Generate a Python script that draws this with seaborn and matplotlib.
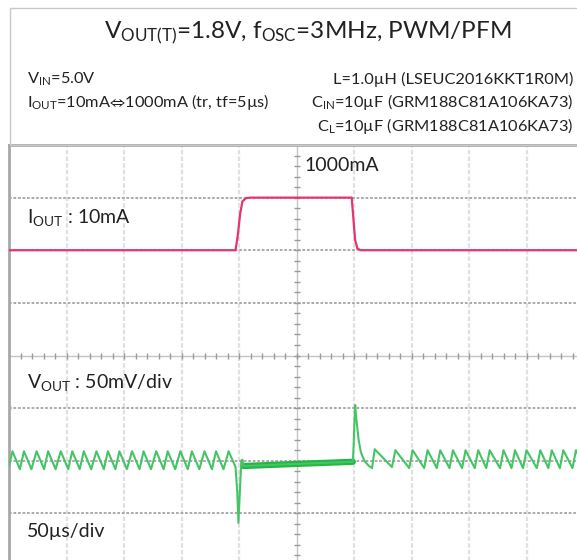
"""
Load transient capture: VOUT(T)=1.8V, fOSC=3MHz, PWM/PFM
Recreated as a static chart (oscilloscope style) with seaborn/matplotlib.
"""

import numpy as np
import matplotlib
matplotlib.use("Agg")
import matplotlib.pyplot as plt
from matplotlib.patches import Rectangle
import seaborn as sns

# 1. DATA (read off the scope shot)
# time base: 50us/div, 10 div across the screen
t_span = 500

# load current step, time in us / current in mA
iout_t = [0, 197, 199, 201, 203, 206, 210, 298, 299.5, 301, 303, 306, 500]
iout_ma = [10, 10, 300, 700, 930, 990, 1000, 1000, 600, 200, 40, 10, 10]

# output voltage ripple (mV around 1.8V), 50mV/div
ripple_peak_t = [3, 13, 24, 34, 45, 55, 65, 76, 86, 96, 107, 117, 128, 138, 149, 159, 170, 180, 191,
                 318, 336, 351, 364, 375, 386, 397, 408, 418, 430, 440, 450, 462, 472, 482, 493]
ripple_peak_mv = [9] * 19 + [11, 10, 10, 10, 10, 10, 10, 10, 10, 10, 10, 10, 10, 10, 10, 10]
ripple_trough_t = [0, 9.5, 19.5, 30.5, 40.5, 51.5, 61.5, 71.5, 82.5, 92.5, 102.5, 113.5, 123.5,
                   134.5, 144.5, 155.5, 165.5, 176.5, 186.5,
                   333, 348, 361, 372, 383, 394, 405, 415, 427, 437, 447, 459, 469, 479, 490, 500]
ripple_trough_mv = [-5] + [-8] * 18 + [-6, -7, -7, -7, -7, -7, -7, -7, -7, -7, -7, -7, -7, -7, -7, -5]

# undershoot when the load steps up, overshoot when it steps down
step_t = [197, 198.5, 199.5, 200.5, 202, 203, 204, 250, 299,
          299.7, 300.5, 301, 302, 304, 306, 309, 313, 315.7]
step_mv = [-6, -30, -59, -35, 0, 1, -5, -3, -1,
           15, 40, 53, 40, 20, 8, 0, -5, -7]

# the noisy PWM band during the 1000mA load
band_t = [204, 250, 299]
band_mv = [-5, -3, -1]

header_title = r"V$_{OUT(T)}$=1.8V, f$_{OSC}$=3MHz, PWM/PFM"
header_left = [r"V$_{IN}$=5.0V", r"I$_{OUT}$=10mA$⇔$1000mA (tr, tf=5µs)"]
header_right = ["L=1.0µH (LSEUC2016KKT1R0M)",
                r"C$_{IN}$=10µF (GRM188C81A106KA73)",
                r"C$_{L}$=10µF (GRM188C81A106KA73)"]

# 2. COMBINE THE VOUT POINTS IN TIME ORDER
vout_t = np.array(ripple_peak_t + ripple_trough_t + step_t, dtype=float)
vout_mv = np.array(ripple_peak_mv + ripple_trough_mv + step_mv, dtype=float)
order = np.argsort(vout_t)
vout_t, vout_mv = vout_t[order], vout_mv[order]

# screen positions in divisions (8 div high): IOUT on lines 6/7, VOUT centred on line 2
iout_div = 6 + (np.array(iout_ma) - 10) / 990
vout_div = 2 + vout_mv / 50
band_div = 2 + np.array(band_mv) / 50

# 3. PLOT
sns.set_style("white")
plt.rcParams["font.family"] = ["Lato", "DejaVu Sans"]
plt.rcParams["mathtext.fontset"] = "custom"
plt.rcParams["mathtext.rm"] = "Lato"
plt.rcParams["mathtext.default"] = "regular"
plt.rcParams["mathtext.fallback"] = "stixsans"

W, H = 577, 560
fig = plt.figure(figsize=(W / 100, H / 100), dpi=100)


def fx(px):
    return px / W


def fy(py):
    return 1 - py / H


# header box
fig.patches.append(Rectangle((fx(10), fy(145)), fx(600) - fx(10), fy(8) - fy(145),
                             transform=fig.transFigure, fill=False, edgecolor="#c8c8c8", lw=1))
fig.text(fx(308), fy(38), header_title, ha="center", va="baseline", fontsize=17.5, color="#222222")
for i, s in enumerate(header_left):
    fig.text(fx(27), fy(84 + 23.5 * i), s, ha="left", va="baseline", fontsize=11.8, color="#222222")
for i, s in enumerate(header_right):
    fig.text(fx(573), fy(84 + 23.5 * i), s, ha="right", va="baseline", fontsize=11.8, color="#222222")

# scope screen: 10 x 8 divisions, a little of it runs off the right and bottom
ax = fig.add_axes([fx(9), fy(566), 575 / W, 421 / H])
ax.set_xlim(0, t_span)
ax.set_ylim(0, 8)
ax.set_xticks([])
ax.set_yticks([])
for side in ["right", "bottom"]:
    ax.spines[side].set_visible(False)
for side in ["left", "top"]:
    ax.spines[side].set_color("#a8a8a8")
    ax.spines[side].set_linewidth(2)

for t in range(50, t_span, 50):
    if t != 250:
        ax.axvline(t, color="#e0e0e0", lw=1.6, ls=(0, (2, 1)), zorder=1)
for y in [1, 2, 3, 5, 6, 7]:
    ax.axhline(y, color="#a4a4a4", lw=1.3, ls=(0, (1.5, 1)), zorder=1)

# centre crosshair with 0.2 div ticks
ax.axvline(250, color="#c4c4c4", lw=1, zorder=1)
ax.axhline(4, color="#c4c4c4", lw=1, zorder=1)
ax.plot(np.full(40, 250), np.arange(0, 8, 0.2), ls="none", marker="_", ms=4, mew=1, color="#9a9a9a", zorder=1)
ax.plot(np.arange(0, t_span, 10), np.full(50, 4), ls="none", marker="|", ms=4, mew=1, color="#9a9a9a", zorder=1)

# traces
sns.lineplot(x=iout_t, y=iout_div, ax=ax, color="#e4356e", lw=1.6, estimator=None, zorder=3)
sns.lineplot(x=band_t, y=band_div, ax=ax, color="#21b844", lw=4.5, estimator=None, zorder=3)
sns.lineplot(x=vout_t, y=vout_div, ax=ax, color="#45c465", lw=1.5, estimator=None, zorder=4)

# labels on the screen
ax.text(15.7, 8 - (223 - 145) / 52.6, r"I$_{OUT}$ : 10mA", fontsize=14, va="baseline", color="#222222")
ax.text(256.5, 8 - (171 - 145) / 52.6, "1000mA", fontsize=14, va="baseline", color="#222222")
ax.text(15.7, 8 - (388 - 145) / 52.6, r"V$_{OUT}$ : 50mV/div", fontsize=14, va="baseline", color="#222222")
ax.text(15.7, 8 - (537 - 145) / 52.6, "50µs/div", fontsize=14, va="baseline", color="#222222")

fig.savefig("out.png", dpi=100)
print("saved out.png")
